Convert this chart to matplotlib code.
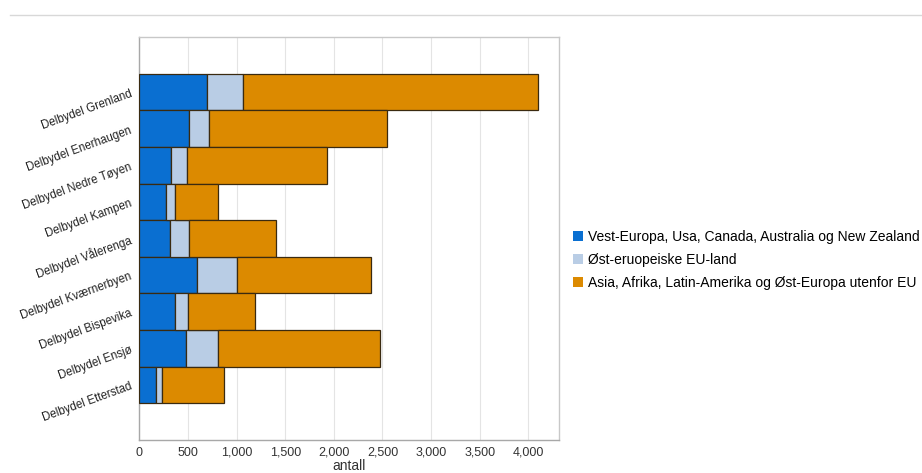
import matplotlib.pyplot as plt
from matplotlib.ticker import FuncFormatter
from matplotlib.lines import Line2D

# Innvandrere etter landbakgrunn, per delbydel
delbydeler = [
    "Delbydel Grenland",
    "Delbydel Enerhaugen",
    "Delbydel Nedre Tøyen",
    "Delbydel Kampen",
    "Delbydel Vålerenga",
    "Delbydel Kværnerbyen",
    "Delbydel Bispevika",
    "Delbydel Ensjø",
    "Delbydel Etterstad",
]
vest_europa = [697, 509, 321, 269, 314, 588, 365, 478, 166]
ost_eu = [371, 206, 171, 96, 199, 412, 138, 330, 69]
asia_afrika = [3035, 1835, 1434, 446, 888, 1385, 685, 1663, 634]

serie_navn = [
    "Vest-Europa, Usa, Canada, Australia og New Zealand",
    "Øst-eruopeiske EU-land",
    "Asia, Afrika, Latin-Amerika og Øst-Europa utenfor EU",
]
farger = ["#0a6fd1", "#b9cde5", "#dc8a00"]
xticks = [0, 500, 1000, 1500, 2000, 2500, 3000, 3500, 4000]

plt.rcParams["font.family"] = ["Liberation Sans", "DejaVu Sans"]

fig = plt.figure(figsize=(9.22, 4.73), dpi=100)
ax = fig.add_axes([0.1513, 0.0698, 0.4550, 0.8520])

y = list(range(len(delbydeler)))
left = [0] * len(delbydeler)
for verdier, farge, navn in zip([vest_europa, ost_eu, asia_afrika], farger, serie_navn):
    ax.barh(y, verdier, left=left, height=1.0, color=farge,
            edgecolor="#3a2a10", linewidth=0.9, label=navn, zorder=3)
    left = [a + b for a, b in zip(left, verdier)]

ax.set_ylim(len(delbydeler) - 0.5 + 1.0, -1.5)
ax.set_xlim(0, 4316)
ax.set_xticks(xticks)
ax.xaxis.set_major_formatter(FuncFormatter(lambda v, p: f"{int(v):,}"))
ax.grid(axis="x", color="#e4e4e4", linewidth=0.8, zorder=0)
ax.set_yticks(y)
ax.set_yticklabels(delbydeler, rotation=20, ha="right", rotation_mode="anchor",
                   fontsize=8.3, color="#222222")
ax.tick_params(axis="y", length=0, pad=6)
ax.tick_params(axis="x", length=0, pad=5, labelsize=9, colors="#333333")
for s in ax.spines.values():
    s.set_color("#c8c8c8")
    s.set_linewidth(1.0)
ax.spines["left"].set_color("#a8a8a8")
ax.spines["bottom"].set_color("#a8a8a8")
ax.set_xlabel("antall", fontsize=10, color="#333333", labelpad=0)

handles, labels = ax.get_legend_handles_labels()
fig.legend(handles, labels, loc="center left", bbox_to_anchor=(0.614, 0.45),
           frameon=False, fontsize=10, handlelength=0.7, handleheight=0.7,
           handletextpad=0.4, labelspacing=0.65, borderpad=0)
for h in fig.legends[0].legend_handles:
    h.set_edgecolor("none")

# skillelinje øverst
fig.add_artist(Line2D([0.011, 1.0], [0.968, 0.968], color="#d8d8d8", linewidth=1.0))

fig.savefig("out.png", dpi=100)
